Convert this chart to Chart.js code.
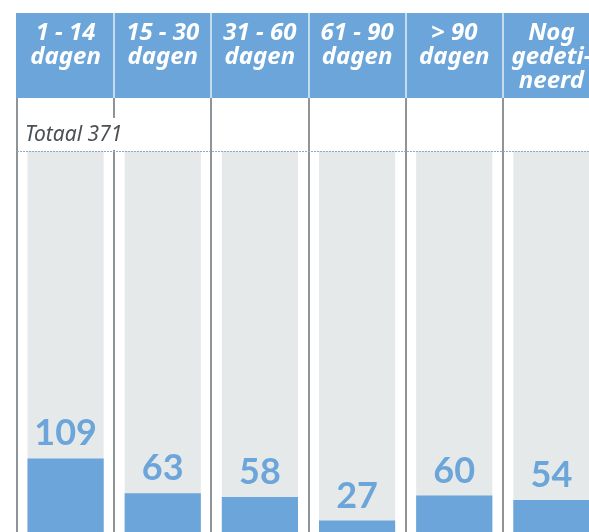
<!DOCTYPE html>
<html>
<head>
<meta charset="utf-8">
<script src="https://cdn.jsdelivr.net/npm/chart.js@4.4.1/dist/chart.umd.min.js"></script>
<style>
  html, body { margin: 0; padding: 0; background: #fff; overflow: hidden; }
  #wrap { position: relative; width: 600px; height: 541px; }
</style>
</head>
<body>
<div id="wrap"><canvas id="termijnChart"></canvas></div>
<script>
// --------------------------------------------------- DATA
const categories = [
  ['1 - 14', 'dagen'],
  ['15 - 30', 'dagen'],
  ['31 - 60', 'dagen'],
  ['61 - 90', 'dagen'],
  ['> 90', 'dagen'],
  ['Nog', 'gedeti-', 'neerd']
]
const counts = [109, 63, 58, 27, 60, 54]
const totalLabel = 'Totaal 371'
const axisMax = 515

// --------------------------------------------------- COLOURS
const headerBlue = '#6ba5d9'
const barBlue = '#6ba5d9'
const trackGrey = '#e6e9ea'
const lineGrey = '#8f9499'

const termijnChart = document.getElementById('termijnChart')

// header band, separators, dotted line and the totaal text
const frame = {
  id: 'frame',
  beforeDraw(chart) {
    const ctx = chart.ctx
    const area = chart.chartArea
    const colW = (area.right - area.left) / categories.length
    ctx.save()
    ctx.fillStyle = headerBlue
    ctx.fillRect(area.left - 1, 13, chart.width, 85)
    ctx.strokeStyle = '#c5dcf0'
    ctx.lineWidth = 2
    for (let i = 1; i < categories.length; i++) {
      const x = Math.round(area.left + i * colW)
      ctx.beginPath()
      ctx.moveTo(x, 13)
      ctx.lineTo(x, 98)
      ctx.stroke()
    }
    ctx.restore()
  },
  afterDraw(chart) {
    const ctx = chart.ctx
    const area = chart.chartArea
    ctx.save()
    // gap in the first separator where the totaal text runs across
    ctx.fillStyle = '#fff'
    ctx.fillRect(area.left + 90, 118, 12, area.top - 119)
    ctx.strokeStyle = '#8faac2'
    ctx.lineWidth = 1
    ctx.setLineDash([2, 1])
    ctx.beginPath()
    ctx.moveTo(area.left, area.top + 0.5)
    ctx.lineTo(chart.width, area.top + 0.5)
    ctx.stroke()
    ctx.setLineDash([])
    ctx.fillStyle = '#4a4f54'
    ctx.font = 'italic 21px "Noto Sans"'
    ctx.textBaseline = 'alphabetic'
    ctx.fillText(totalLabel, area.left + 8, 141)
    ctx.restore()
  },
  afterDatasetsDraw(chart) {
    const ctx = chart.ctx
    const meta = chart.getDatasetMeta(1)
    ctx.save()
    ctx.fillStyle = barBlue
    ctx.font = 'bold 36px Lato'
    ctx.textAlign = 'center'
    ctx.textBaseline = 'alphabetic'
    meta.data.forEach((bar, i) => {
      ctx.fillText(counts[i], bar.x, bar.y - 13)
    })
    ctx.restore()
  }
}

const displayTermijnChart = new Chart(termijnChart, {
  type: 'bar',
  data: {
    labels: categories,
    datasets: [{
      label: 'achtergrond',
      data: categories.map(() => axisMax),
      backgroundColor: trackGrey,
      grouped: false,
      order: 2
    },
    {
      label: 'aantal',
      data: counts,
      backgroundColor: barBlue,
      grouped: false,
      order: 1
    }]
  },
  options: {
    responsive: true,
    maintainAspectRatio: false,
    animation: false,
    categoryPercentage: 1,
    barPercentage: 0.784,
    layout: {
      padding: { left: 17, right: 0, top: 16, bottom: 0 }
    },
    plugins: {
      legend: { display: false },
      tooltip: { enabled: false }
    },
    scales: {
      x: {
        position: 'top',
        grid: {
          offset: true,
          color: lineGrey,
          lineWidth: 2,
          drawTicks: true,
          tickLength: 53
        },
        border: { display: false },
        ticks: {
          color: '#fff',
          padding: 5,
          crossAlign: 'far',
          maxRotation: 0,
          autoSkip: false,
          font: { family: '"Noto Sans"', size: 24, weight: 'bold', style: 'italic', lineHeight: 1 }
        }
      },
      y: {
        display: false,
        min: 0,
        max: axisMax
      }
    }
  },
  plugins: [frame]
})
</script>
</body>
</html>
